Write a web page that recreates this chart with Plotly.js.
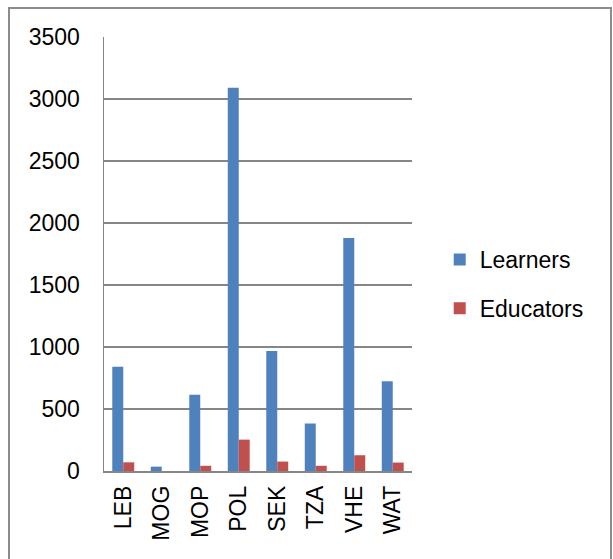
<!DOCTYPE html>
<html>
<head>
<meta charset="utf-8">
<script src="https://cdn.plot.ly/plotly-3.0.1.min.js"></script>
<style>
  html, body { margin: 0; padding: 0; background: #fff; }
  #frame { position: absolute; left: 8px; top: 7px; width: 604px; height: 600px; border: 2px solid #8c8c8c; box-sizing: border-box; }
  #chart { position: absolute; left: 0; top: 0; width: 613px; height: 559px; }
</style>
</head>
<body>
<div id="frame"></div>
<div id="chart"></div>
<script>
const categories = ["LEB", "MOG", "MOP", "POL", "SEK", "TZA", "VHE", "WAT"];
const learners = [840, 35, 615, 3090, 967, 383, 1880, 724];
const educators = [70, 0, 42, 253, 76, 42, 127, 68];
const yTicks = [0, 500, 1000, 1500, 2000, 2500, 3000, 3500];

const font = { family: "Liberation Sans, Arial, sans-serif", size: 23, color: "#000" };

const traces = [
  { type: "bar", name: "Learners", x: categories, y: learners, marker: { color: "#4F81BD" }, legendgroup: "a" },
  { type: "bar", name: "Educators", x: categories, y: educators, marker: { color: "#C0504D" }, legendgroup: "b" }
];

const layout = {
  width: 613, height: 559,
  margin: { l: 104, r: 201, t: 37, b: 88 },
  paper_bgcolor: "rgba(0,0,0,0)",
  plot_bgcolor: "rgba(0,0,0,0)",
  font: font,
  barmode: "group",
  bargap: 0.43,
  bargroupgap: 0,
  showlegend: true,
  legend: {
    x: 1.09, xanchor: "left", y: 0.431, yanchor: "middle",
    font: font, tracegroupgap: 16, traceorder: "grouped",
    itemclick: false
  },
  xaxis: {
    type: "category",
    tickangle: -90,
    showline: true, linecolor: "#868686", linewidth: 1.5,
    ticks: "", tickfont: font, ticklabelstandoff: 4,
    showgrid: false, fixedrange: true
  },
  yaxis: {
    range: [0, 3500],
    tickvals: yTicks,
    ticktext: yTicks.map(String),
    showline: true, linecolor: "#868686", linewidth: 1.5,
    showgrid: true, gridcolor: "#868686", gridwidth: 1.2,
    zeroline: false,
    ticks: "", ticklabelstandoff: 18,
    tickfont: font, fixedrange: true
  }
};

Plotly.newPlot("chart", traces, layout, { displayModeBar: false, staticPlot: true });
</script>
</body>
</html>
